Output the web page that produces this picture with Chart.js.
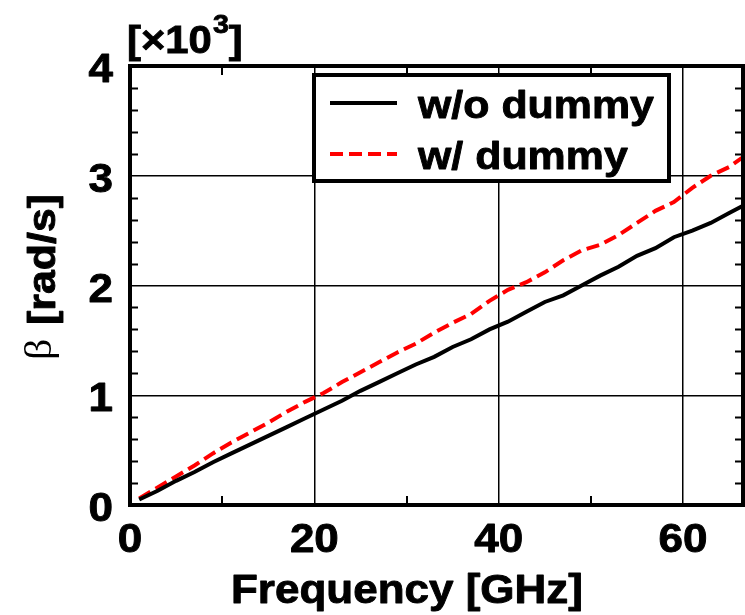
<!DOCTYPE html>
<html>
<head>
<meta charset="utf-8">
<script src="https://cdn.jsdelivr.net/npm/chart.js@4/dist/chart.umd.min.js"></script>
<style>
  html, body { margin: 0; padding: 0; background: #fff; }
  #wrap { width: 745px; height: 615px; }
</style>
</head>
<body>
<div id="wrap"><canvas id="beta" width="745" height="615"></canvas></div>
<script>
// frequency points [GHz]
const freq = [1, 3, 5, 7, 9, 11, 13, 15, 17, 19, 21, 23, 25, 27, 29, 31, 33, 35, 37, 39,
              41, 43, 45, 47, 49, 51, 53, 55, 57, 59, 61, 63, 65, 67];
// beta [x10^3 rad/s], without dummy
const woDummy = [0.05, 0.13, 0.22, 0.30, 0.39, 0.47, 0.55, 0.63, 0.71, 0.79, 0.87, 0.95, 1.04, 1.12,
                 1.20, 1.28, 1.35, 1.44, 1.51, 1.60, 1.67, 1.76, 1.85, 1.91, 2.00, 2.09, 2.17, 2.27,
                 2.34, 2.44, 2.50, 2.57, 2.66, 2.75];
// beta [x10^3 rad/s], with dummy
const wDummy = [0.06, 0.16, 0.26, 0.36, 0.47, 0.57, 0.66, 0.75, 0.85, 0.94, 1.02, 1.12, 1.21, 1.30,
                1.39, 1.47, 1.57, 1.66, 1.74, 1.86, 1.96, 2.03, 2.12, 2.23, 2.32, 2.37, 2.46, 2.57,
                2.68, 2.76, 2.89, 3.00, 3.08, 3.20];

const xTickLabels = [0, 20, 40, 60];
const yTickLabels = [0, 1, 2, 3, 4];
const xMinorTicks = [10, 30, 50];
const seriesNames = ['w/o dummy', 'w/ dummy'];

const SX = 1.1; // horizontal stretch for all text
const FONT = '"Liberation Sans", Arial, sans-serif';

function isMajor(list, v) {
  return list.some(t => Math.abs(t - v) < 1e-6);
}

// bold text, widened a little and thickened with a thin outline
function heavyText(ctx, txt, x, y, size, align) {
  ctx.save();
  ctx.translate(x, y);
  ctx.scale(SX, 1);
  ctx.font = 'bold ' + size + 'px ' + FONT;
  ctx.textAlign = align;
  ctx.textBaseline = 'alphabetic';
  ctx.fillStyle = '#000';
  ctx.strokeStyle = '#000';
  ctx.lineWidth = 0.9;
  ctx.lineJoin = 'round';
  ctx.fillText(txt, 0, 0);
  ctx.strokeText(txt, 0, 0);
  ctx.restore();
}

const decor = {
  id: 'decor',
  afterDraw(chart) {
    const { ctx, chartArea: a, scales: { x, y } } = chart;
    ctx.save();
    ctx.strokeStyle = '#000';

    // minor ticks, inward
    ctx.lineWidth = 2;
    ctx.beginPath();
    for (let i = 1; i < 20; i++) {
      const v = i * 0.2;
      if (isMajor(yTickLabels, v)) continue;
      const py = Math.round(y.getPixelForValue(v)) + 0.5;
      ctx.moveTo(a.left, py); ctx.lineTo(a.left + 8, py);
      ctx.moveTo(a.right, py); ctx.lineTo(a.right - 8, py);
    }
    xMinorTicks.forEach(v => {
      const px = Math.round(x.getPixelForValue(v));
      ctx.moveTo(px, a.bottom); ctx.lineTo(px, a.bottom - 9);
      ctx.moveTo(px, a.top); ctx.lineTo(px, a.top + 9);
    });
    ctx.stroke();

    // frame
    ctx.lineWidth = 4;
    ctx.strokeRect(a.left, a.top, a.right - a.left, a.bottom - a.top);

    // tick labels
    yTickLabels.forEach(v => {
      heavyText(ctx, String(v), 113, y.getPixelForValue(v) + 16, 40, 'right');
    });
    xTickLabels.forEach(v => {
      heavyText(ctx, String(v), x.getPixelForValue(v), a.bottom + 47, 40, 'center');
    });

    // axis titles
    heavyText(ctx, 'Frequency [GHz]', 407, 603, 40, 'center');

    ctx.save();
    ctx.translate(55, 360);
    ctx.rotate(-Math.PI / 2);
    ctx.fillStyle = '#000';
    ctx.textBaseline = 'alphabetic';
    ctx.textAlign = 'left';
    ctx.save();
    ctx.scale(SX, 1);
    ctx.font = '38px "Liberation Serif", serif';
    ctx.fillText('\u03b2', 0, -4);
    ctx.restore();
    heavyText(ctx, '[rad/s]', 35, 0, 39, 'left');
    ctx.restore();

    // multiplier above the y axis
    ctx.save();
    ctx.translate(127, 53);
    ctx.scale(SX, 1);
    ctx.fillStyle = '#000';
    ctx.strokeStyle = '#000';
    ctx.lineWidth = 0.9;
    ctx.textBaseline = 'alphabetic';
    ctx.textAlign = 'left';
    ctx.font = 'bold 38px ' + FONT;
    const head = '[\u00d710';
    ctx.fillText(head, 0, 0);
    ctx.strokeText(head, 0, 0);
    let w = ctx.measureText(head).width;
    ctx.font = 'bold 26px ' + FONT;
    ctx.fillText('3', w + 1, -20);
    ctx.strokeText('3', w + 1, -20);
    w += ctx.measureText('3').width + 1;
    ctx.font = 'bold 38px ' + FONT;
    ctx.fillText(']', w, 0);
    ctx.strokeText(']', w, 0);
    ctx.restore();

    // legend
    const bx = 314, by = 75, bw = 355, bh = 106;
    ctx.fillStyle = '#fff';
    ctx.fillRect(bx, by, bw, bh);
    ctx.lineWidth = 4;
    ctx.strokeStyle = '#000';
    ctx.strokeRect(bx, by, bw, bh);
    const rows = [103, 154];
    chart.data.datasets.forEach((ds, i) => {
      ctx.save();
      ctx.strokeStyle = ds.borderColor;
      ctx.lineWidth = ds.borderWidth;
      ctx.setLineDash(ds.borderDash || []);
      ctx.beginPath();
      ctx.moveTo(330, rows[i]);
      ctx.lineTo(397, rows[i]);
      ctx.stroke();
      ctx.restore();
      heavyText(ctx, ds.label, 418, rows[i] + 15, 39, 'left');
    });

    ctx.restore();
  }
};

new Chart(document.getElementById('beta'), {
  type: 'line',
  data: {
    datasets: [
      {
        label: seriesNames[0],
        data: freq.map((f, i) => ({ x: f, y: woDummy[i] })),
        borderColor: '#000',
        borderWidth: 4,
        pointRadius: 0,
        tension: 0
      },
      {
        label: seriesNames[1],
        data: freq.map((f, i) => ({ x: f, y: wDummy[i] })),
        borderColor: '#ff0000',
        borderWidth: 4,
        borderDash: [13, 6],
        pointRadius: 0,
        tension: 0
      }
    ]
  },
  options: {
    responsive: false,
    animation: false,
    layout: { padding: { left: 0, top: 66, right: 2, bottom: 0 } },
    plugins: { legend: { display: false }, tooltip: { enabled: false } },
    scales: {
      x: {
        type: 'linear',
        min: 0,
        max: 66.5,
        ticks: { display: false, stepSize: 10 },
        border: { display: false },
        grid: {
          drawTicks: false,
          lineWidth: 1.5,
          color: c => (c.tick && [20, 40, 60].includes(Math.round(c.tick.value)) &&
                       Math.abs(c.tick.value - Math.round(c.tick.value)) < 1e-6) ? '#000' : 'rgba(0,0,0,0)'
        },
        afterFit: s => { s.height = 110; }
      },
      y: {
        min: 0,
        max: 4,
        ticks: { display: false, stepSize: 1 },
        border: { display: false },
        grid: {
          drawTicks: false,
          lineWidth: 1.5,
          color: c => (c.tick && [1, 2, 3].includes(c.tick.value)) ? '#000' : 'rgba(0,0,0,0)'
        },
        afterFit: s => { s.width = 130; }
      }
    }
  },
  plugins: [decor]
});
</script>
</body>
</html>
